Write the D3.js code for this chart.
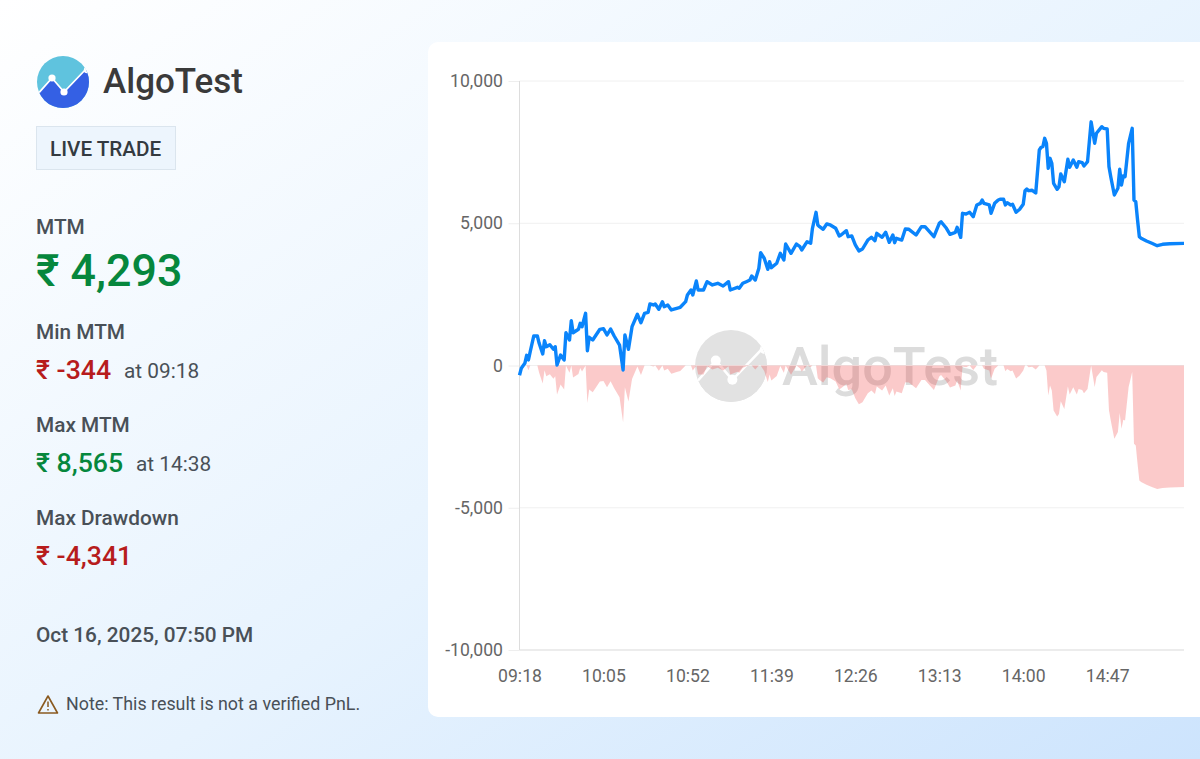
<!DOCTYPE html>
<html>
<head>
<meta charset="utf-8" />
<style type="text/css">
  html, body { margin: 0; padding: 0; height: 100%; overflow: hidden; }
  body { background: linear-gradient(146deg, #ffffff 0%, #e7f3fe 55%, #cde4fd 100%); }
  svg { display: block; font-family: Roboto, "Noto Sans", sans-serif; }
  .axis text { font-family: Roboto, sans-serif; font-size: 17.6px; fill: #666; }
  .axis path { display: none; }
</style>
<script src="https://cdn.jsdelivr.net/npm/d3@7"></script>
</head>
<body>
<svg id="chart" width="1200" height="759"></svg>
<script>
// minutes after the 09:18 start
var minutes = [0,1,3,4,5,6,8,10,11,13,14,15,17,19,20,21,23,25,26,28,29,30,33,34,35,37,38,39,41,45,47,49,51,53,56,58,59,61,63,66,68,70,72,73,75,76,78,80,81,83,85,88,90,93,94,96,97,99,100,103,105,108,111,114,117,118,122,123,125,127,129,130,132,134,135,137,139,140,141,144,146,148,149,152,155,157,158,161,163,164,166,167,168,170,172,174,177,179,180,183,184,186,188,190,192,195,197,199,200,203,205,207,209,210,211,214,216,218,222,225,227,232,235,236,239,241,244,245,247,248,250,252,254,256,258,259,260,263,264,266,268,269,271,272,273,275,276,278,280,282,283,284,285,287,289,291,292,293,294,295,296,297,298,299,301,302,303,305,307,308,310,312,313,315,316,318,320,322,323,326,327,329,330,331,333,335,336,337,338,339,340,341,343,344,345,346,347,348,351,354,357,360,364,372];
var mtm = [-344,-100,77,358,193,486,1037,1037,780,404,872,661,731,569,661,18,369,193,1153,896,1575,1153,1272,1483,1364,1835,520,991,896,1272,1294,1072,1283,1037,720,-158,1072,569,1364,1800,1504,1835,1870,2162,2127,2162,1975,2243,2067,2127,1951,2011,2046,2243,2478,2654,2478,2970,2654,2654,2946,2830,2889,2794,2946,2654,2749,2714,2889,2946,3005,3146,3005,3417,3965,3769,3381,3649,3439,3593,3944,3708,4271,3944,4271,4176,4060,4352,4295,4823,5385,4939,4879,4787,4974,4939,4823,4552,4587,4739,4527,4552,4236,4025,4095,4411,4506,4387,4647,4506,4682,4330,4587,4317,4471,4411,4798,4787,4587,4879,4879,4527,4998,5054,4823,4611,4682,4858,4506,5350,5325,5385,5230,5642,5700,5817,5700,5642,5350,5700,5817,5842,5842,5642,5723,5642,5666,5385,5490,5666,6145,6204,6145,6158,6063,7575,7670,7691,7986,7810,6932,7283,7107,6404,6193,6285,6731,6461,7248,6967,7224,6967,7164,7129,7013,7164,8565,7810,8162,8394,8336,8312,6990,6636,5993,6228,6896,6345,6661,6636,7224,7810,8336,5817,5757,5114,4527,4471,4376,4295,4211,4260,4281,4293];
var drawdown = [0,0,0,0,-165,0,0,0,-257,-633,-165,-376,-306,-468,-376,-1019,-668,-844,0,-257,0,-422,-303,-92,-211,0,-1315,-844,-939,-563,-541,-763,-552,-798,-1115,-1993,-763,-1266,-471,-35,-331,0,0,0,-35,0,-187,0,-176,-116,-292,-232,-197,0,0,0,-176,0,-316,-316,-24,-140,-81,-176,-24,-316,-221,-256,-81,-24,0,0,-141,0,0,-196,-584,-316,-526,-372,-21,-257,0,-327,0,-95,-211,0,-57,0,0,-446,-506,-598,-411,-446,-562,-833,-798,-646,-858,-833,-1149,-1360,-1290,-974,-879,-998,-738,-879,-703,-1055,-798,-1068,-914,-974,-587,-598,-798,-506,-506,-858,-387,-331,-562,-774,-703,-527,-879,-35,-60,0,-155,0,0,0,-117,-175,-467,-117,0,0,0,-200,-119,-200,-176,-457,-352,-176,0,0,-59,-46,-141,0,0,0,0,-176,-1054,-703,-879,-1582,-1793,-1701,-1255,-1525,-738,-1019,-762,-1019,-822,-857,-973,-822,0,-755,-403,-171,-229,-253,-1575,-1929,-2572,-2337,-1669,-2220,-1904,-1929,-1341,-755,-229,-2748,-2808,-3451,-4038,-4094,-4189,-4270,-4341,-4305,-4284,-4272];

var yTicks = [-10000,-5000,0,5000,10000];
var xTickMinutes = [0,47,94,141,188,235,282,329];
var xTickLabels = ["09:18","10:05","10:52","11:39","12:26","13:13","14:00","14:47"];

var brand = "AlgoTest";
var badge = "LIVE TRADE";
var mtmLabel = "MTM", mtmValue = "₹ 4,293";
var minLabel = "Min MTM", minValue = "₹ -344", minTime = "at 09:18";
var maxLabel = "Max MTM", maxValue = "₹ 8,565", maxTime = "at 14:38";
var ddLabel = "Max Drawdown", ddValue = "₹ -4,341";
var dateText = "Oct 16, 2025, 07:50 PM";
var noteText = "Note: This result is not a verified PnL.";

var GREEN = "#06873d", RED = "#b71c1c", GREY = "#495057";

var svg = d3.select("#chart");
var defs = svg.append("defs");

// logo is used twice: header (colour) and watermark (grey)
function drawLogo(parent, cx, cy, r, topColor, bottomColor, id) {
  var g = parent.append("g").attr("transform", "translate(" + cx + "," + cy + ") scale(" + r / 26 + ")");
  defs.append("clipPath").attr("id", id).append("circle").attr("r", 26);
  var c = g.append("g").attr("clip-path", "url(#" + id + ")");
  c.append("rect").attr("x", -26).attr("y", -26).attr("width", 52).attr("height", 52).attr("fill", topColor);
  c.append("path").attr("d", "M-27,14 L-11,-4 L1,10 L24,-14 L27,-14 L27,27 L-27,27 Z").attr("fill", bottomColor);
  c.append("path").attr("d", "M-27,14 L-11,-4 L1,10 L24,-14")
    .attr("fill", "none").attr("stroke", "#fff").attr("stroke-width", 1.8);
  [[-11,-4,3.6],[1,10,3.6],[24,-12,3.2]].forEach(function(p) {
    c.append("circle").attr("cx", p[0]).attr("cy", p[1]).attr("r", p[2]).attr("fill", "#fff");
  });
}

function label(parent, x, y, txt, size, color, weight) {
  return parent.append("text").attr("x", x).attr("y", y).text(txt)
    .attr("font-size", size).attr("fill", color).attr("font-weight", weight || 400);
}

// left panel
var left = svg.append("g");
drawLogo(left, 63, 82, 26, "#5fc3de", "#3460e4", "logoClip");
label(left, 103, 93, brand, 35, "#3a3a3a", 500);
left.append("rect").attr("x", 36.5).attr("y", 126.5).attr("width", 139).attr("height", 43)
  .attr("fill", "#edf5fd").attr("stroke", "#dbe5ee");
label(left, 50, 156, badge, 20.7, "#343a40", 500);

label(left, 36, 234, mtmLabel, 20.8, GREY, 500);
label(left, 36, 286, mtmValue, 44.8, GREEN, 500);
label(left, 36, 339, minLabel, 20.8, GREY, 500);
label(left, 36, 379, minValue, 26.7, RED, 500);
label(left, 124, 378, minTime, 20.8, GREY);
label(left, 36, 432, maxLabel, 20.8, GREY, 500);
label(left, 36, 472, maxValue, 26.7, GREEN, 500);
label(left, 136, 471, maxTime, 20.8, GREY);
label(left, 36, 525, ddLabel, 20.8, GREY, 500);
label(left, 36, 565, ddValue, 26.7, RED, 500);
label(left, 36, 642, dateText, 20.8, GREY, 500);

var warn = left.append("g").attr("transform", "translate(48,705)");
warn.append("path").attr("d", "M0,-9 L9.5,8 L-9.5,8 Z").attr("fill", "none")
  .attr("stroke", "#8a5a20").attr("stroke-width", 1.6).attr("stroke-linejoin", "round");
warn.append("path").attr("d", "M0,-3.5 L0,2 M0,4 L0,5.6").attr("stroke", "#8a5a20").attr("stroke-width", 1.5);
label(left, 66, 710, noteText, 17.85, GREY);

// chart card, runs off the right edge
svg.append("rect").attr("x", 428).attr("y", 42).attr("width", 800).attr("height", 675)
  .attr("rx", 10).attr("fill", "#fff");

var x = d3.scaleLinear().domain([0, 372]).range([519.5, 1184]);
var y = d3.scaleLinear().domain([-10000, 10000]).range([650, 81]);

// watermark sits under the series
var mark = svg.append("g");
drawLogo(mark, 731, 366, 36, "#e2e2e2", "#e2e2e2", "markClip");
label(mark, 782, 385, brand, 54, "#dcdcdc", 500);

var yAxis = svg.append("g").attr("class", "axis").attr("transform", "translate(519.5,0)")
  .call(d3.axisLeft(y).tickValues(yTicks).tickSize(11).tickPadding(5.5)
    .tickFormat(function(d) { return d3.format(",")(d).replace("−", "-"); }));
yAxis.selectAll("line").attr("stroke", "#eeeeee");

var xAxis = svg.append("g").attr("class", "axis").attr("transform", "translate(0,650)")
  .call(d3.axisBottom(x).tickValues(xTickMinutes).tickSize(0).tickPadding(20)
    .tickFormat(function(d, i) { return xTickLabels[i]; }));

svg.append("g").selectAll("line").data(yTicks).join("line")
  .attr("x1", 519.5).attr("x2", 1184)
  .attr("y1", function(d) { return y(d); }).attr("y2", function(d) { return y(d); })
  .attr("stroke", function(d) { return d === -10000 ? "#d9d9d9" : "#f0f0f0"; });

svg.append("line").attr("x1", 519.5).attr("x2", 519.5).attr("y1", 81).attr("y2", 650)
  .attr("stroke", "#dddddd");

var area = d3.area()
  .x(function(d, i) { return x(minutes[i]); })
  .y0(y(0))
  .y1(function(d) { return y(d); });

svg.append("path").datum(drawdown).attr("d", area).attr("fill", "#ee2a2a").attr("fill-opacity", 0.25);

var line = d3.line()
  .x(function(d, i) { return x(minutes[i]); })
  .y(function(d) { return y(d); });

svg.append("path").datum(mtm).attr("d", line).attr("fill", "none")
  .attr("stroke", "#0a84fb").attr("stroke-width", 3.4).attr("stroke-linejoin", "round");
</script>
</body>
</html>
